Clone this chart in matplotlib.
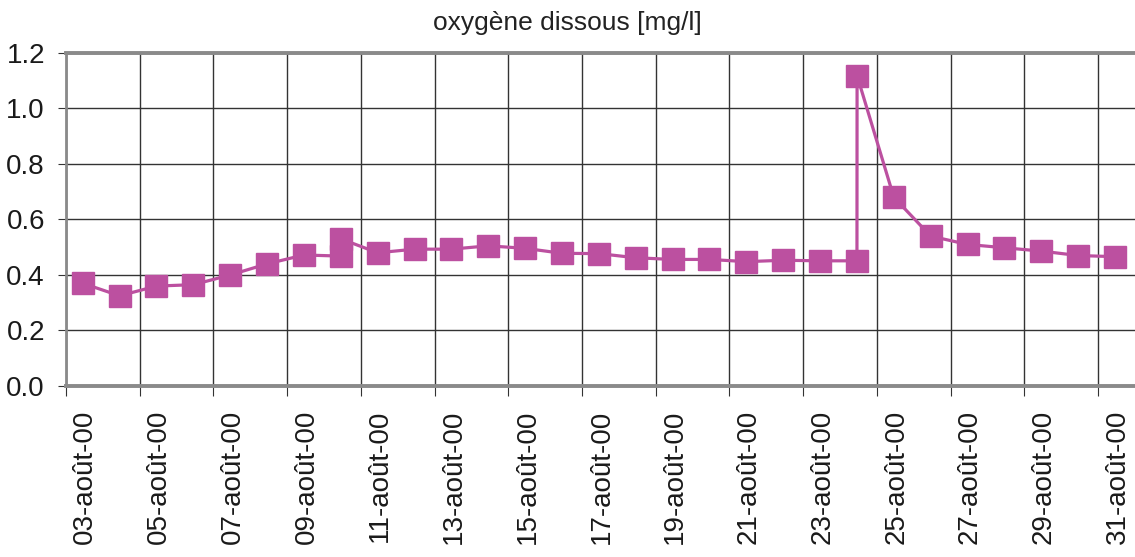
import datetime as dt
import matplotlib
matplotlib.use("Agg")
import matplotlib.pyplot as plt
import matplotlib.dates as mdates
import matplotlib.transforms as mtransforms
from matplotlib.ticker import MultipleLocator, FormatStrFormatter

times = [
    "2000-08-03 11:00", "2000-08-04 11:00", "2000-08-05 11:00", "2000-08-06 11:00",
    "2000-08-07 11:00", "2000-08-08 11:00", "2000-08-09 11:00", "2000-08-10 11:00",
    "2000-08-10 11:05", "2000-08-11 11:00", "2000-08-12 11:00", "2000-08-13 11:00",
    "2000-08-14 11:00", "2000-08-15 11:00", "2000-08-16 11:00", "2000-08-17 11:00",
    "2000-08-18 11:00", "2000-08-19 11:00", "2000-08-20 11:00", "2000-08-21 11:00",
    "2000-08-22 11:00", "2000-08-23 11:00", "2000-08-24 11:00", "2000-08-24 11:05",
    "2000-08-25 11:00", "2000-08-26 11:00", "2000-08-27 11:00", "2000-08-28 11:00",
    "2000-08-29 11:00", "2000-08-30 11:00", "2000-08-31 11:00",
]
oxygen = [
    0.37, 0.325, 0.36, 0.365, 0.40, 0.44, 0.472, 0.468,
    0.53, 0.48, 0.493, 0.493, 0.505, 0.496, 0.478, 0.477,
    0.462, 0.456, 0.456, 0.448, 0.453, 0.451, 0.451, 1.118,
    0.68, 0.54, 0.51, 0.498, 0.486, 0.47, 0.466,
]
title = "oxygène dissous [mg/l]"
month_label = "août"

x = [dt.datetime.strptime(t, "%Y-%m-%d %H:%M") for t in times]

plt.rcParams['font.family'] = ['Liberation Sans', 'DejaVu Sans']

fig = plt.figure(figsize=(11.35, 5.57), dpi=100)
ax = fig.add_axes([0.058, 0.307, 0.942, 0.598])

ax.plot(x, oxygen, color='#BC50A0', lw=2.3, marker='s', markersize=16,
        markeredgecolor='#BC50A0', clip_on=False, zorder=3)

ax.set_xlim(dt.datetime(2000, 8, 3), dt.datetime(2000, 9, 1))
ax.set_ylim(0, 1.2)
ax.yaxis.set_major_locator(MultipleLocator(0.2))
ax.yaxis.set_major_formatter(FormatStrFormatter('%.1f'))

ax.xaxis.set_major_locator(mdates.DayLocator(bymonthday=range(3, 32, 2)))
ax.xaxis.set_major_formatter(
    matplotlib.ticker.FuncFormatter(
        lambda v, pos: f"{mdates.num2date(v).day:02d}-{month_label}-00"))

ax.grid(True, color='#333333', lw=1.0)
ax.set_axisbelow(True)

for side in ['top', 'bottom']:
    ax.spines[side].set_color('#8a8a8a')
    ax.spines[side].set_linewidth(2.8)
ax.spines['left'].set_color('#8a8a8a')
ax.spines['left'].set_linewidth(2.0)
ax.spines['right'].set_visible(False)

ax.tick_params(axis='y', labelsize=20, length=6, color='#333333', labelcolor='#1a1a1a', pad=9)
ax.tick_params(axis='x', labelsize=20, length=7, color='#333333', labelcolor='#1a1a1a',
               labelrotation=90, pad=10)

# Excel puts the rotated date labels a little to the right of their tick
shift = mtransforms.ScaledTranslation(14 / 72, 0, fig.dpi_scale_trans)
for lbl in ax.get_xticklabels():
    lbl.set_transform(lbl.get_transform() + shift)

fig.text(0.5, 0.958, title, ha='center', va='center', fontsize=19, color='#222222')

fig.savefig("out.png", dpi=100)
